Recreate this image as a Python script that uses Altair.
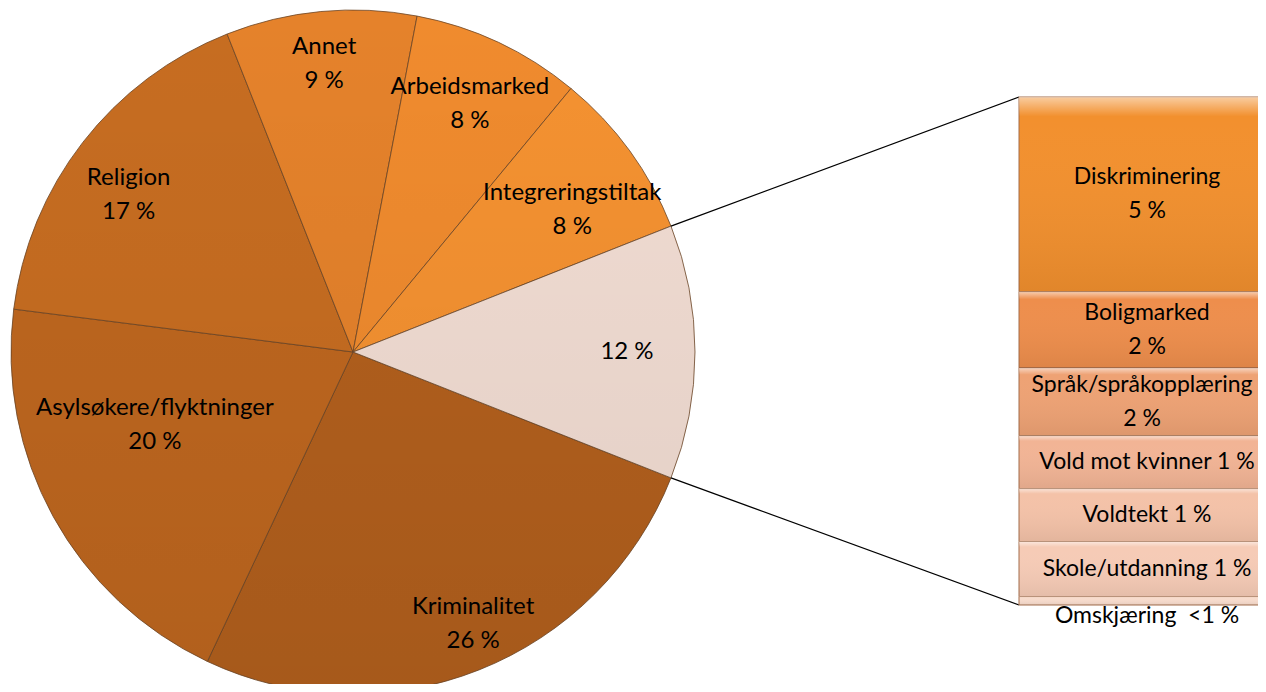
import math
import altair as alt
import pandas as pd

# ---------------- data ----------------
pie_cats = ["Kriminalitet", "Asylsøkere/flyktninger", "Religion", "Annet",
            "Arbeidsmarked", "Integreringstiltak", "Andre"]
pie_vals = [26, 20, 17, 9, 8, 8, 12]
pie_labels = ["Kriminalitet\n26 %", "Asylsøkere/flyktninger\n20 %", "Religion\n17 %",
              "Annet\n9 %", "Arbeidsmarked\n8 %", "Integreringstiltak\n8 %", "12 %"]
pie_colors = ["#b3601d", "#bf671f", "#c76d21", "#e5822b", "#f08b2e", "#f59231", "#f2ddd3"]

bar_cats = ["Diskriminering", "Boligmarked", "Språk/språkopplæring", "Vold mot kvinner",
            "Voldtekt", "Skole/utdanning", "Omskjæring"]
bar_vals = [4.6, 1.8, 1.6, 1.25, 1.25, 1.3, 0.2]
bar_labels = ["Diskriminering\n5 %", "Boligmarked\n2 %", "Språk/språkopplæring\n2 %",
              "Vold mot kvinner 1 %", "Voldtekt 1 %", "Skole/utdanning 1 %",
              "Omskjæring\u00a0 <1 %"]
bar_colors = ["#f2902e", "#ee8e4c", "#eea274", "#f2b495", "#f4c2a8", "#f6cbb6", "#f8dccd"]

# ---------------- layout (positions / styles only) ----------------
W, H = 1250, 676
CX, CY, R = 345, 344, 342
BAR_X, BAR_X2 = 1011, 1282
BAR_TOP, BAR_BOTTOM = 89, 597
BAR_TEXT_X = 1139
FONT = "Lato"
FS = 24
FS_BAR = 23
LH = 34
# label radius (px) and angular nudge (in value units) per pie label
LABEL_R = {"Kriminalitet": 282, "Asylsøkere/flyktninger": 206, "Religion": 284, "Annet": 306,
           "Arbeidsmarked": 290, "Integreringstiltak": 271, "Andre": 274}
LABEL_NUDGE = {"Kriminalitet": -1.0, "Asylsøkere/flyktninger": 3.6, "Arbeidsmarked": -0.4}


def lookup_expr(mapping, default):
    expr = str(default)
    for k, v in mapping.items():
        expr = f"(datum.cat == '{k}' ? {v} : {expr})"
    return expr


pie_df = pd.DataFrame({"cat": pie_cats, "val": pie_vals, "label": pie_labels,
                       "idx": list(range(len(pie_cats)))})
bar_df = pd.DataFrame({"cat": bar_cats, "val": bar_vals, "label": bar_labels,
                       "idx": list(range(len(bar_cats)))})

pie_total = sum(pie_vals)
other = pie_vals[-1]
start = math.pi / 2 + math.pi * other / pie_total
theta_scale = alt.Scale(domain=[0, pie_total], range=[start, start + 2 * math.pi], zero=False, nice=False)

bar_total = sum(bar_vals)
y_scale = alt.Scale(domain=[0, bar_total], range=[BAR_BOTTOM, BAR_TOP], nice=False, zero=False)

# ---------------- pie ----------------
pie_stacked = alt.Chart(pie_df).transform_stack(
    stack="val", as_=["t0", "t1"], groupby=[], sort=[alt.SortField("idx", order="ascending")]
)
arcs = pie_stacked.mark_arc(outerRadius=R, stroke="#6b4526", strokeWidth=0.8).encode(
    theta=alt.Theta("t0:Q", scale=theta_scale, stack=None),
    theta2="t1:Q",
    x=alt.value(CX), y=alt.value(CY),
    color=alt.Color("cat:N", scale=alt.Scale(domain=pie_cats, range=pie_colors), legend=None),
)

shade = alt.Chart(pd.DataFrame({"a": [0]})).mark_arc(
    outerRadius=R, theta=0, theta2=2 * math.pi,
    fill=alt.LinearGradient(
        gradient="linear",
        stops=[alt.GradientStop(color="rgba(0,0,0,0.0)", offset=0),
               alt.GradientStop(color="rgba(0,0,0,0.07)", offset=1)],
        x1=0, x2=0, y1=0, y2=1),
).encode(x=alt.value(CX), y=alt.value(CY))

pie_text = pie_stacked.transform_calculate(
    tm=f"(datum.t0 + datum.t1) / 2 + {lookup_expr(LABEL_NUDGE, 0)}",
    r=lookup_expr(LABEL_R, 278),
).mark_text(font=FONT, fontSize=FS, lineBreak="\n", lineHeight=LH, color="black",
            align="center", baseline="middle").encode(
    theta=alt.Theta("tm:Q", scale=theta_scale, stack=None),
    radius=alt.Radius("r:Q", scale=None, stack=None),
    x=alt.value(CX), y=alt.value(CY),
    text="label:N",
)

# ---------------- connectors ----------------
a1 = math.pi / 2 - math.pi * other / pie_total
a2 = math.pi / 2 + math.pi * other / pie_total
dummy = pd.DataFrame({"a": [0]})
rule_top = alt.Chart(dummy).mark_rule(color="black", strokeWidth=1.3).encode(
    x=alt.value(CX + R * math.sin(a1)), y=alt.value(CY - R * math.cos(a1)),
    x2=alt.value(BAR_X), y2=alt.value(BAR_TOP))
rule_bot = alt.Chart(dummy).mark_rule(color="black", strokeWidth=1.3).encode(
    x=alt.value(CX + R * math.sin(a2)), y=alt.value(CY - R * math.cos(a2)),
    x2=alt.value(BAR_X), y2=alt.value(BAR_BOTTOM))

# ---------------- bar ----------------
bar_base = alt.Chart(bar_df).transform_stack(
    stack="val", as_=["y0", "y1"], groupby=[],
    sort=[alt.SortField("idx", order="descending")]
)
segs = bar_base.mark_rect(stroke="#a36c4a", strokeWidth=1).encode(
    x=alt.value(BAR_X), x2=alt.value(BAR_X2),
    y=alt.Y("y0:Q", scale=y_scale, axis=None), y2="y1:Q",
    color=alt.Color("cat:N", scale=alt.Scale(domain=bar_cats, range=bar_colors), legend=None),
)
seg_shade = bar_base.mark_rect(
    fill=alt.LinearGradient(
        gradient="linear",
        stops=[alt.GradientStop(color="rgba(255,255,255,0.55)", offset=0),
               alt.GradientStop(color="rgba(255,255,255,0.0)", offset=0.1),
               alt.GradientStop(color="rgba(0,0,0,0.07)", offset=1)],
        x1=0, x2=0, y1=0, y2=1),
).encode(
    x=alt.value(BAR_X), x2=alt.value(BAR_X2),
    y=alt.Y("y0:Q", scale=y_scale, axis=None), y2="y1:Q",
)
bar_text_base = bar_base.transform_calculate(
    ym="datum.cat == 'Omskjæring' ? -0.26 : (datum.y0 + datum.y1) / 2",
    tx=f"datum.cat == 'Språk/språkopplæring' ? {BAR_TEXT_X - 5} : {BAR_TEXT_X}",
)
bar_text_two = bar_text_base.transform_filter(
    "indexof(datum.label, '\\n') >= 0"
).mark_text(font=FONT, fontSize=FS_BAR, lineBreak="\n", lineHeight=LH, color="black",
            align="center", baseline="middle", dy=-LH / 2).encode(
    x=alt.X("tx:Q", scale=None),
    y=alt.Y("ym:Q", scale=y_scale, axis=None),
    text="label:N",
)
bar_text_one = bar_text_base.transform_filter(
    "indexof(datum.label, '\\n') < 0"
).mark_text(font=FONT, fontSize=FS_BAR, color="black",
            align="center", baseline="middle").encode(
    x=alt.X("tx:Q", scale=None),
    y=alt.Y("ym:Q", scale=y_scale, axis=None),
    text="label:N",
)

chart = alt.layer(arcs, shade, rule_top, rule_bot, segs, seg_shade, pie_text,
                  bar_text_two, bar_text_one).resolve_scale(
    color="independent"
).properties(
    width=W, height=H, padding=0, autosize=alt.AutoSizeParams(type="none"),
    background="white",
).configure_view(stroke=None)

chart.save("out.html", embed_options={"renderer": "svg", "actions": False})
